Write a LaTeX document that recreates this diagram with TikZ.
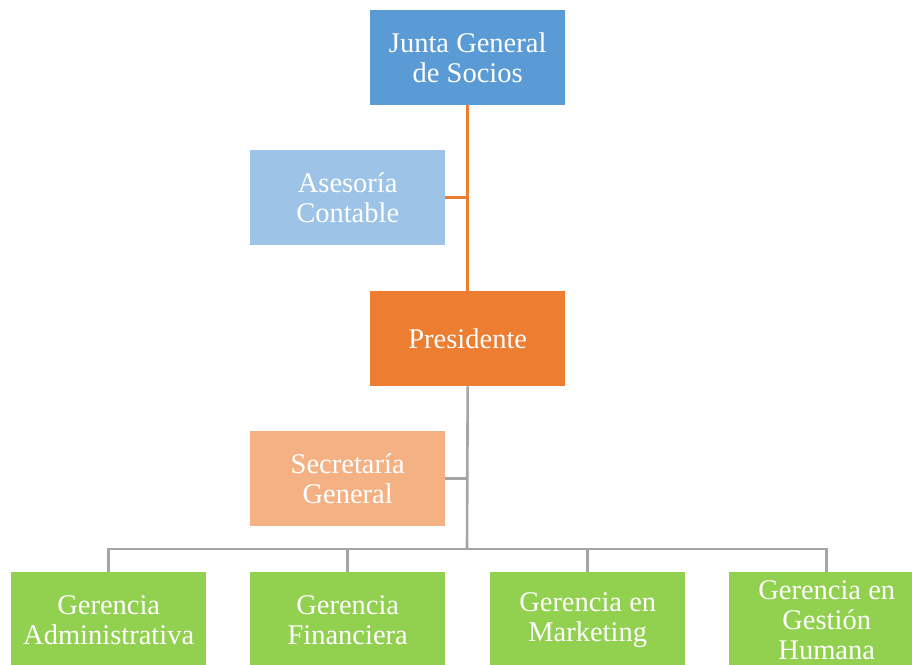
\documentclass[tikz,border=0pt]{standalone}
\usepackage{fontspec}
\setmainfont{Liberation Serif}
\definecolor{cblue}{HTML}{5B9BD5}
\definecolor{clblue}{HTML}{9DC3E6}
\definecolor{corange}{HTML}{ED7D31}
\definecolor{clorange}{HTML}{F4B183}
\definecolor{cgreen}{HTML}{92D050}
\definecolor{cgray}{HTML}{A5A5A5}
\begin{document}
\begin{tikzpicture}[x=1pt,y=-1pt,
  orgbox/.style={anchor=north west, minimum width=195pt, minimum height=95pt, inner sep=0pt,
    text=white, align=center, font=\fontsize{28.5}{30}\selectfont},
  orgline/.style={line width=2.6pt}]
\useasboundingbox (0,0) rectangle (912,664);
\clip (0,0) rectangle (912,664);
\fill[white] (0,0) rectangle (912,664);
\node[orgbox, fill=cblue] (junta) at (370,10) {Junta General\\de Socios};
\node[orgbox, fill=clblue] (ases) at (250,150) {Asesoría\\Contable};
\node[orgbox, fill=corange] (pres) at (370,291) {Presidente};
\node[orgbox, fill=clorange] (secr) at (250,431) {Secretaría\\General};
\node[orgbox, fill=cgreen] (g1) at (11,572) {Gerencia\\Administrativa};
\node[orgbox, fill=cgreen] (g2) at (250,572) {Gerencia\\Financiera};
\node[orgbox, fill=cgreen] (g3) at (490,572) {Gerencia en\\Marketing};
\node[orgbox, fill=cgreen] (g4) at (729,572) {Gerencia en\\Gestión\\Humana};
\coordinate (oj) at (junta.south |- ases.east);
\coordinate (bus) at (467,549);
\coordinate (os) at (pres.south |- secr.east);
\draw[orgline, corange] (junta.south) -- (pres.north);
\draw[orgline, corange] (oj) -- (ases.east);
\draw[orgline, cgray] (pres.south) -- (bus);
\draw[orgline, cgray] (os) -- (secr.east);
\draw[orgline, cgray] (g1.north) |- (bus) -| (g4.north);
\draw[orgline, cgray] (g2.north) -- (g2.north |- bus);
\draw[orgline, cgray] (g3.north) -- (g3.north |- bus);
\end{tikzpicture}
\end{document}
